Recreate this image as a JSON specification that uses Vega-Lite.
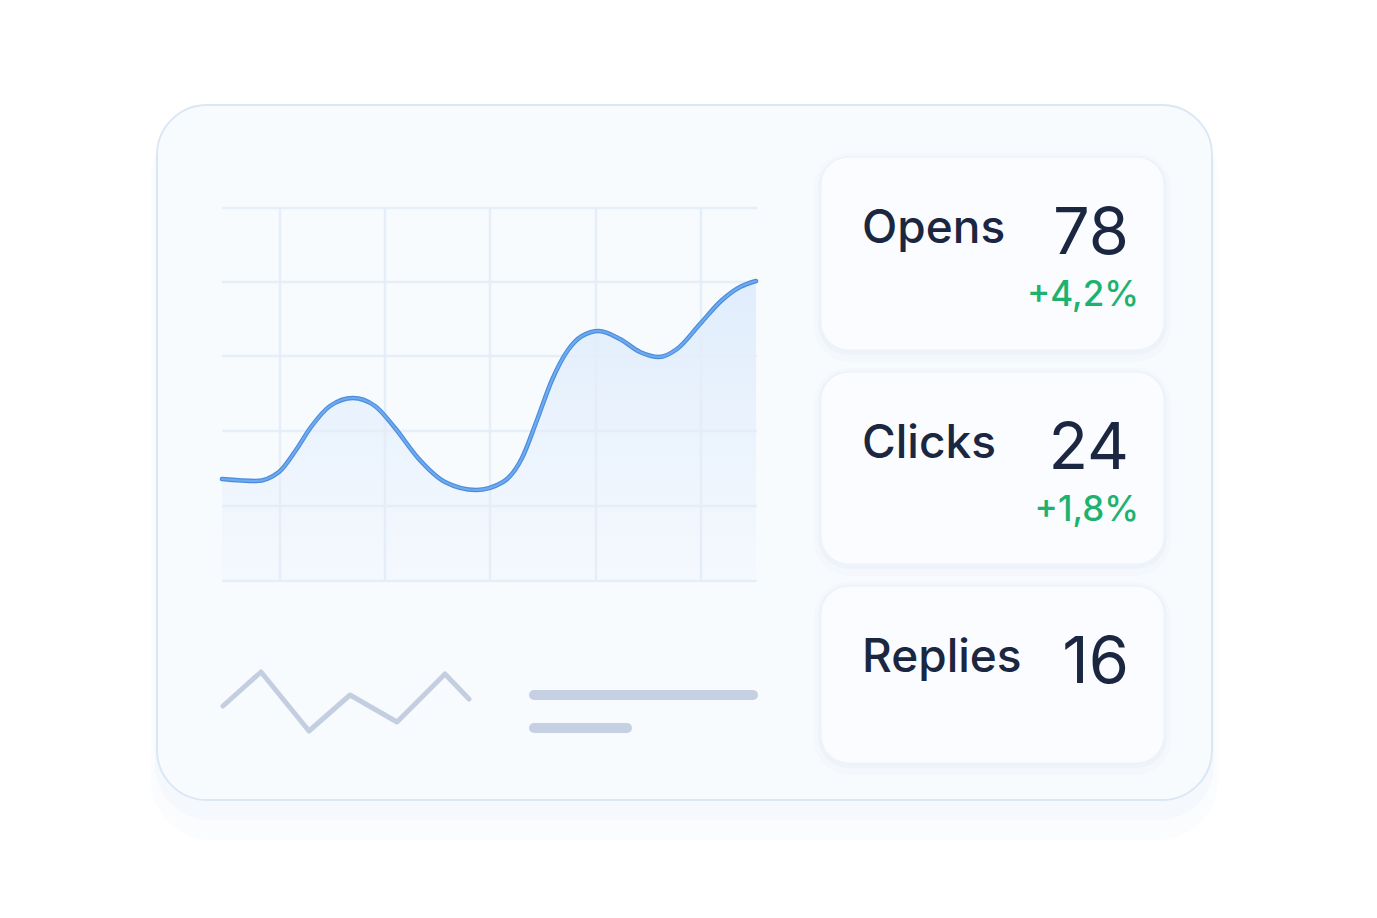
{
  "$schema": "https://vega.github.io/schema/vega-lite/v6.json",
  "autosize": {"type": "fit", "contains": "padding"},
  "width": 1377,
  "height": 918,
  "padding": 0,
  "background": "#ffffff",
  "config": {"view": {"stroke": null}, "axis": null},
  "datasets": {
    "panel": [{"x0": 157, "x1": 1212, "y0": 105, "y1": 800}],
    "gridH": [{"y": 208}, {"y": 282}, {"y": 356}, {"y": 431}, {"y": 506}, {"y": 581}],
    "gridV": [{"x": 280}, {"x": 385}, {"x": 490}, {"x": 596}, {"x": 701}],
    "curve": [
      {"x": 222, "y": 479}, {"x": 256, "y": 481}, {"x": 279, "y": 472},
      {"x": 296, "y": 450}, {"x": 311, "y": 427}, {"x": 330, "y": 406}, {"x": 353, "y": 398},
      {"x": 375, "y": 406}, {"x": 395, "y": 428}, {"x": 418, "y": 458}, {"x": 445, "y": 482},
      {"x": 476, "y": 490}, {"x": 503, "y": 482}, {"x": 522, "y": 458}, {"x": 537, "y": 420},
      {"x": 552, "y": 380}, {"x": 568, "y": 350}, {"x": 582, "y": 336}, {"x": 599, "y": 331},
      {"x": 620, "y": 339}, {"x": 640, "y": 352}, {"x": 659, "y": 357}, {"x": 677, "y": 349},
      {"x": 700, "y": 324}, {"x": 721, "y": 301}, {"x": 740, "y": 287}, {"x": 756, "y": 281}
    ],
    "spark": [
      {"x": 223, "y": 706}, {"x": 261, "y": 672}, {"x": 309, "y": 731}, {"x": 350, "y": 695},
      {"x": 397, "y": 722}, {"x": 445, "y": 674}, {"x": 469, "y": 699}
    ],
    "bars": [{"x0": 534, "x1": 753, "y": 695}, {"x0": 534, "x1": 627, "y": 728}],
    "metrics": [
      {"metric": "Opens", "value": "78", "change": "+4,2%", "top": 157, "bottom": 350},
      {"metric": "Clicks", "value": "24", "change": "+1,8%", "top": 372, "bottom": 564},
      {"metric": "Replies", "value": "16", "change": "", "top": 586, "bottom": 763}
    ]
  },
  "layer": [
    {
      "data": {"name": "panel"},
      "mark": {"type": "rect", "cornerRadius": 60, "fill": "#c8d6ea", "opacity": 0.07, "xOffset": -6, "x2Offset": 6, "yOffset": 12, "y2Offset": 40},
      "encoding": {
        "x": {"field": "x0", "type": "quantitative", "scale": {"domain": [0, 1377], "nice": false, "zero": false}, "axis": null},
        "x2": {"field": "x1"},
        "y": {"field": "y0", "type": "quantitative", "scale": {"domain": [0, 918], "nice": false, "zero": false, "reverse": true}, "axis": null},
        "y2": {"field": "y1"}
      }
    },
    {
      "data": {"name": "panel"},
      "mark": {"type": "rect", "cornerRadius": 55, "fill": "#c8d6ea", "opacity": 0.1, "xOffset": -2, "x2Offset": 2, "yOffset": 6, "y2Offset": 20},
      "encoding": {
        "x": {"field": "x0", "type": "quantitative", "scale": {"domain": [0, 1377], "nice": false, "zero": false}, "axis": null},
        "x2": {"field": "x1"},
        "y": {"field": "y0", "type": "quantitative", "scale": {"domain": [0, 918], "nice": false, "zero": false, "reverse": true}, "axis": null},
        "y2": {"field": "y1"}
      }
    },
    {
      "data": {"name": "panel"},
      "mark": {"type": "rect", "cornerRadius": 50, "fill": "#f8fbfe", "stroke": "#dce7f4", "strokeWidth": 2},
      "encoding": {
        "x": {"field": "x0", "type": "quantitative", "scale": {"domain": [0, 1377], "nice": false, "zero": false}, "axis": null},
        "x2": {"field": "x1"},
        "y": {"field": "y0", "type": "quantitative", "scale": {"domain": [0, 918], "nice": false, "zero": false, "reverse": true}, "axis": null},
        "y2": {"field": "y1"}
      }
    },
    {
      "data": {"name": "curve"},
      "mark": {"type": "area", "interpolate": "monotone", "color": {"gradient": "linear", "x1": 0, "y1": 0, "x2": 0, "y2": 1, "stops": [{"offset": 0, "color": "#e0edfc"}, {"offset": 1, "color": "#f5f9fe"}]}},
      "encoding": {
        "x": {"field": "x", "type": "quantitative", "scale": {"domain": [0, 1377], "nice": false, "zero": false}, "axis": null},
        "y": {"field": "y", "type": "quantitative", "scale": {"domain": [0, 918], "nice": false, "zero": false, "reverse": true}, "axis": null},
        "y2": {"datum": 581}
      }
    },
    {
      "data": {"name": "gridH"},
      "mark": {"type": "rule", "stroke": "#e3ecf7", "strokeWidth": 2.5, "opacity": 0.9},
      "encoding": {
        "x": {"datum": 222, "type": "quantitative", "scale": {"domain": [0, 1377], "nice": false, "zero": false}, "axis": null},
        "x2": {"datum": 757},
        "y": {"field": "y", "type": "quantitative", "scale": {"domain": [0, 918], "nice": false, "zero": false, "reverse": true}, "axis": null}
      }
    },
    {
      "data": {"name": "gridV"},
      "mark": {"type": "rule", "stroke": "#e3ecf7", "strokeWidth": 2.5, "opacity": 0.9},
      "encoding": {
        "x": {"field": "x", "type": "quantitative", "scale": {"domain": [0, 1377], "nice": false, "zero": false}, "axis": null},
        "y": {"datum": 208, "type": "quantitative", "scale": {"domain": [0, 918], "nice": false, "zero": false, "reverse": true}, "axis": null},
        "y2": {"datum": 581}
      }
    },
    {
      "data": {"name": "curve"},
      "mark": {"type": "line", "interpolate": "monotone", "stroke": "#4a8cdb", "strokeWidth": 4.5, "strokeCap": "round"},
      "encoding": {
        "x": {"field": "x", "type": "quantitative", "scale": {"domain": [0, 1377], "nice": false, "zero": false}, "axis": null},
        "y": {"field": "y", "type": "quantitative", "scale": {"domain": [0, 918], "nice": false, "zero": false, "reverse": true}, "axis": null}
      }
    },
    {
      "data": {"name": "curve"},
      "mark": {"type": "line", "interpolate": "monotone", "stroke": "#6eaaf0", "strokeWidth": 2.2, "strokeCap": "round"},
      "encoding": {
        "x": {"field": "x", "type": "quantitative", "scale": {"domain": [0, 1377], "nice": false, "zero": false}, "axis": null},
        "y": {"field": "y", "type": "quantitative", "scale": {"domain": [0, 918], "nice": false, "zero": false, "reverse": true}, "axis": null}
      }
    },
    {
      "data": {"name": "spark"},
      "mark": {"type": "line", "stroke": "#c3cfe1", "strokeWidth": 5, "strokeCap": "round", "strokeJoin": "round"},
      "encoding": {
        "x": {"field": "x", "type": "quantitative", "scale": {"domain": [0, 1377], "nice": false, "zero": false}, "axis": null},
        "y": {"field": "y", "type": "quantitative", "scale": {"domain": [0, 918], "nice": false, "zero": false, "reverse": true}, "axis": null}
      }
    },
    {
      "data": {"name": "bars"},
      "mark": {"type": "rule", "stroke": "#c5d0e2", "strokeWidth": 10, "strokeCap": "round"},
      "encoding": {
        "x": {"field": "x0", "type": "quantitative", "scale": {"domain": [0, 1377], "nice": false, "zero": false}, "axis": null},
        "x2": {"field": "x1"},
        "y": {"field": "y", "type": "quantitative", "scale": {"domain": [0, 918], "nice": false, "zero": false, "reverse": true}, "axis": null}
      }
    },
    {
      "data": {"name": "metrics"},
      "mark": {"type": "rect", "cornerRadius": 36, "fill": "#c9d6e9", "opacity": 0.07, "xOffset": -7, "x2Offset": 7, "yOffset": -4, "y2Offset": 12},
      "encoding": {
        "x": {"datum": 821, "type": "quantitative", "scale": {"domain": [0, 1377], "nice": false, "zero": false}, "axis": null},
        "x2": {"datum": 1164},
        "y": {"field": "top", "type": "quantitative", "scale": {"domain": [0, 918], "nice": false, "zero": false, "reverse": true}, "axis": null},
        "y2": {"field": "bottom"}
      }
    },
    {
      "data": {"name": "metrics"},
      "mark": {"type": "rect", "cornerRadius": 31, "fill": "#c9d6e9", "opacity": 0.12, "xOffset": -3, "x2Offset": 3, "yOffset": -1, "y2Offset": 5},
      "encoding": {
        "x": {"datum": 821, "type": "quantitative", "scale": {"domain": [0, 1377], "nice": false, "zero": false}, "axis": null},
        "x2": {"datum": 1164},
        "y": {"field": "top", "type": "quantitative", "scale": {"domain": [0, 918], "nice": false, "zero": false, "reverse": true}, "axis": null},
        "y2": {"field": "bottom"}
      }
    },
    {
      "data": {"name": "metrics"},
      "mark": {"type": "rect", "cornerRadius": 28, "fill": "#fafcff", "stroke": "#eef3f9", "strokeWidth": 1},
      "encoding": {
        "x": {"datum": 821, "type": "quantitative", "scale": {"domain": [0, 1377], "nice": false, "zero": false}, "axis": null},
        "x2": {"datum": 1164},
        "y": {"field": "top", "type": "quantitative", "scale": {"domain": [0, 918], "nice": false, "zero": false, "reverse": true}, "axis": null},
        "y2": {"field": "bottom"}
      }
    },
    {
      "data": {"name": "metrics"},
      "mark": {"type": "text", "align": "left", "baseline": "alphabetic", "dy": 86, "font": "Inter", "fontSize": 46, "fontWeight": 500, "color": "#1b2740"},
      "encoding": {
        "x": {"datum": 862, "type": "quantitative", "scale": {"domain": [0, 1377], "nice": false, "zero": false}, "axis": null},
        "y": {"field": "top", "type": "quantitative", "scale": {"domain": [0, 918], "nice": false, "zero": false, "reverse": true}, "axis": null},
        "text": {"field": "metric"}
      }
    },
    {
      "data": {"name": "metrics"},
      "mark": {"type": "text", "align": "right", "baseline": "alphabetic", "dy": 97, "font": "Inter", "fontSize": 65, "fontWeight": 400, "color": "#1b2740"},
      "encoding": {
        "x": {"datum": 1129, "type": "quantitative", "scale": {"domain": [0, 1377], "nice": false, "zero": false}, "axis": null},
        "y": {"field": "top", "type": "quantitative", "scale": {"domain": [0, 918], "nice": false, "zero": false, "reverse": true}, "axis": null},
        "text": {"field": "value"}
      }
    },
    {
      "data": {"name": "metrics"},
      "mark": {"type": "text", "align": "right", "baseline": "alphabetic", "dy": 149, "font": "Inter", "fontSize": 35, "fontWeight": 500, "letterSpacing": 0.5, "color": "#1db26e"},
      "encoding": {
        "x": {"datum": 1139, "type": "quantitative", "scale": {"domain": [0, 1377], "nice": false, "zero": false}, "axis": null},
        "y": {"field": "top", "type": "quantitative", "scale": {"domain": [0, 918], "nice": false, "zero": false, "reverse": true}, "axis": null},
        "text": {"field": "change"}
      }
    }
  ]
}
